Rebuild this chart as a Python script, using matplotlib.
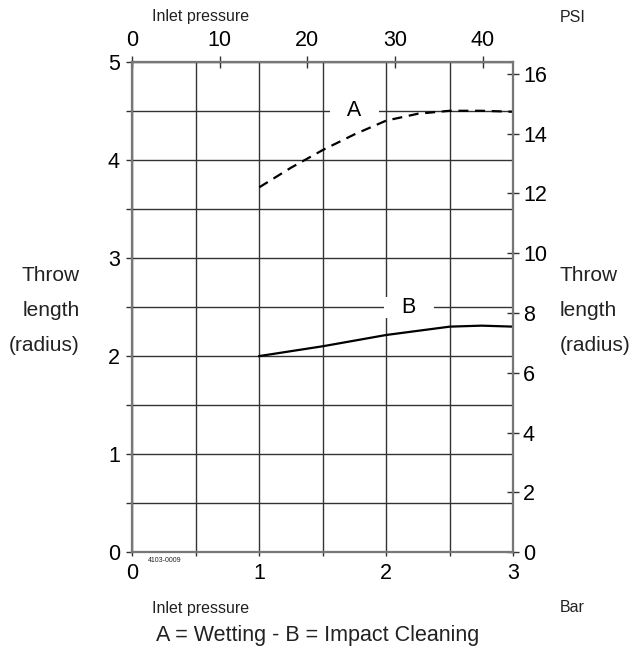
import numpy as np
import matplotlib
matplotlib.use("Agg")
import matplotlib.pyplot as plt
from matplotlib.ticker import MultipleLocator, FuncFormatter

plt.rcParams['font.family'] = ['Liberation Sans', 'DejaVu Sans']

# inlet pressure (bar) vs throw length (m)
bar_a = [1.0, 1.25, 1.5, 1.75, 2.0, 2.25, 2.5, 2.75, 3.0]
throw_a = [3.72, 3.92, 4.10, 4.26, 4.40, 4.47, 4.50, 4.50, 4.49]   # A = Wetting
bar_b = [1.0, 1.5, 2.0, 2.5, 2.75, 3.0]
throw_b = [2.00, 2.10, 2.215, 2.30, 2.31, 2.30]                    # B = Impact Cleaning

psi_ticks = [0, 10, 20, 30, 40]
ft_ticks = [0, 2, 4, 6, 8, 10, 12, 14, 16]
BAR2PSI = 14.5038
M2FT = 3.2808

fig = plt.figure(figsize=(6.44, 6.51), dpi=100)
ax = fig.add_axes([0.2054, 0.1516, 0.5916, 0.7536])
ax.set_xlim(0, 3)
ax.set_ylim(0, 5)

gridc = '#333333'
spc = '#777777'
ax.xaxis.set_major_locator(MultipleLocator(0.5))
ax.yaxis.set_major_locator(MultipleLocator(0.5))
intfmt = FuncFormatter(lambda v, p: f"{v:.0f}" if abs(v - round(v)) < 1e-6 else "")
ax.xaxis.set_major_formatter(intfmt)
ax.yaxis.set_major_formatter(intfmt)
ax.grid(True, color=gridc, lw=1.0)
ax.set_axisbelow(True)
ax.tick_params(axis='x', direction='out', length=3, width=1, color=gridc, pad=5, labelsize=15.5)
ax.tick_params(axis='y', direction='out', length=4, width=1, color=gridc, pad=5, labelsize=15.5)
for s in ax.spines.values():
    s.set_color(spc)
    s.set_linewidth(1.5)

ax.plot(bar_a, throw_a, color='black', lw=1.6, ls=(0, (4.5, 3)), zorder=3)
ax.plot(bar_b, throw_b, color='black', lw=1.6, zorder=3)

ax.text(1.75, 4.5, '   A   ', ha='center', va='center', fontsize=15.5,
        bbox=dict(boxstyle='square,pad=0', fc='white', ec='none'), zorder=4)
ax.text(2.18, 2.5, '   B   ', ha='center', va='center', fontsize=15.5,
        bbox=dict(boxstyle='square,pad=0', fc='white', ec='none'), zorder=4)

# right axis in feet
axr = ax.twinx()
axr.set_ylim(0, 5 * M2FT)
axr.set_yticks(ft_ticks)
axr.tick_params(axis='y', direction='inout', length=8, width=1, color=gridc, pad=3, labelsize=15.5)
# top axis in psi
axt = ax.twiny()
axt.set_xlim(0, 3 * BAR2PSI)
axt.set_xticks(psi_ticks)
axt.tick_params(axis='x', direction='inout', length=8, width=1, color=gridc, pad=3.5, labelsize=15.5)
for a in (axr, axt):
    for s in a.spines.values():
        s.set_color(spc)
        s.set_linewidth(1.5)

tc = '#222222'
fig.text(152 / 644, 1 - 17 / 651, 'Inlet pressure', ha='left', va='center', fontsize=11.5, color=tc)
fig.text(560 / 644, 1 - 17 / 651, 'PSI', ha='left', va='center', fontsize=11.5, color=tc)
fig.text(152 / 644, 1 - 608 / 651, 'Inlet pressure', ha='left', va='center', fontsize=11.5, color=tc)
fig.text(560 / 644, 1 - 608 / 651, 'Bar', ha='left', va='center', fontsize=11.5, color=tc)
fig.text(318 / 644, 1 - 636 / 651, 'A = Wetting - B = Impact Cleaning', ha='center', va='center',
         fontsize=15.5, color=tc)
fig.text(148 / 644, 1 - 560 / 651, '4103-0009', ha='left', va='center', fontsize=5, color=tc)

for i, w in enumerate(['Throw', 'length', '(radius)']):
    y = 1 - (276 + 35 * i) / 651
    fig.text(80 / 644, y, w, ha='right', va='center', fontsize=15, color=tc)
    fig.text(560 / 644, y, w, ha='left', va='center', fontsize=15, color=tc)

fig.savefig('out.png', dpi=100)
plt.close(fig)
